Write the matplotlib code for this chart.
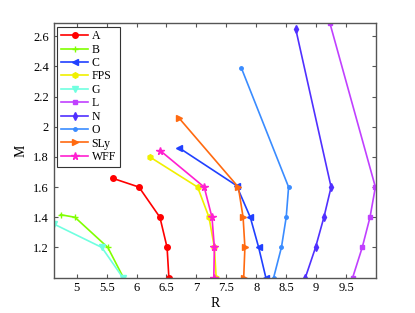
import matplotlib
matplotlib.use("Agg")
from matplotlib import pyplot as plt

plt.rcParams['font.family'] = ['Liberation Serif', 'DejaVu Serif']

names = ["A", "B", "C", "FPS", "G", "L", "N", "O", "SLy", "WFF"]

R_A = [5.61, 6.04, 6.39, 6.51, 6.54]
M_A = [1.657, 1.60, 1.40, 1.20, 1.0]
R_B = [4.73, 4.97, 5.52, 5.78]
M_B = [1.417, 1.40, 1.20, 1.0]
R_C = [6.71, 7.67, 7.90, 8.04, 8.16]
M_C = [1.86, 1.61, 1.40, 1.20, 1.0]
R_FPS = [6.22, 7.02, 7.21, 7.30, 7.33]
M_FPS = [1.80, 1.60, 1.40, 1.20, 1.0]
R_G = [4.62, 5.42, 5.77]
M_G = [1.355, 1.20, 1.0]
R_L = [9.23, 9.99, 9.90, 9.77, 9.61]
M_L = [2.686, 1.60, 1.40, 1.20, 1.0]
R_N = [8.66, 9.25, 9.13, 8.99, 8.82]
M_N = [2.646, 1.60, 1.40, 1.20, 1.0]
R_O = [7.75, 8.54, 8.50, 8.42, 8.29]
M_O = [2.39, 1.60, 1.40, 1.20, 1.0]
R_SLy = [6.71, 7.70, 7.78, 7.81, 7.79]
M_SLy = [2.057, 1.60, 1.40, 1.20, 1.0]
R_WFF = [6.40, 7.13, 7.26, 7.30, 7.29]
M_WFF = [1.84, 1.60, 1.40, 1.20, 1.0]

R_all = [R_A, R_B, R_C, R_FPS, R_G, R_L, R_N, R_O, R_SLy, R_WFF]
M_all = [M_A, M_B, M_C, M_FPS, M_G, M_L, M_N, M_O, M_SLy, M_WFF]

colors = ["#ff0000", "#80ff00", "#2040ff", "#f0f000", "#70ffe0",
          "#c040ff", "#5030ff", "#3a8cff", "#ff6a10", "#ff20d0"]
markers = ["o", "+", "<", "h", "v", "s", "d", ".", ">", "*"]
msizes = [4, 4.5, 4, 4, 4, 3.5, 4, 5, 4, 5.5]

fig = plt.figure(figsize=(4.15, 3.13), dpi=100)
ax = fig.add_axes([0.130, 0.113, 0.776, 0.813])

for i in range(len(names)):
    ax.plot(R_all[i], M_all[i], color=colors[i], marker=markers[i],
            markersize=msizes[i], linewidth=1.2, markeredgewidth=1.0,
            label=names[i])

ax.set_xlim(4.62, 10.0)
ax.set_ylim(1.0, 2.686)
ax.set_xticks([5, 5.5, 6, 6.5, 7, 7.5, 8, 8.5, 9, 9.5])
ax.set_xticklabels(["5", "5.5", "6", "6.5", "7", "7.5", "8", "8.5", "9", "9.5"])
ax.set_yticks([1.2, 1.4, 1.6, 1.8, 2.0, 2.2, 2.4, 2.6])
ax.set_yticklabels(["1.2", "1.4", "1.6", "1.8", "2", "2.2", "2.4", "2.6"])
ax.tick_params(direction="in", top=True, right=True, labelsize=9,
               length=3, color="#555555")
for s in ax.spines.values():
    s.set_color("#555555")
    s.set_linewidth(1.0)

ax.set_xlabel("R", fontsize=10, labelpad=2)
ax.set_ylabel("M", fontsize=10, labelpad=4)

leg = ax.legend(loc="upper left", fontsize=8.5, fancybox=False,
                edgecolor="#333333", framealpha=1, handlelength=2.3,
                labelspacing=0.12, borderpad=0.3, handletextpad=0.3,
                borderaxespad=0.3)
leg.get_frame().set_linewidth(0.8)

fig.savefig("out.png", dpi=100)
